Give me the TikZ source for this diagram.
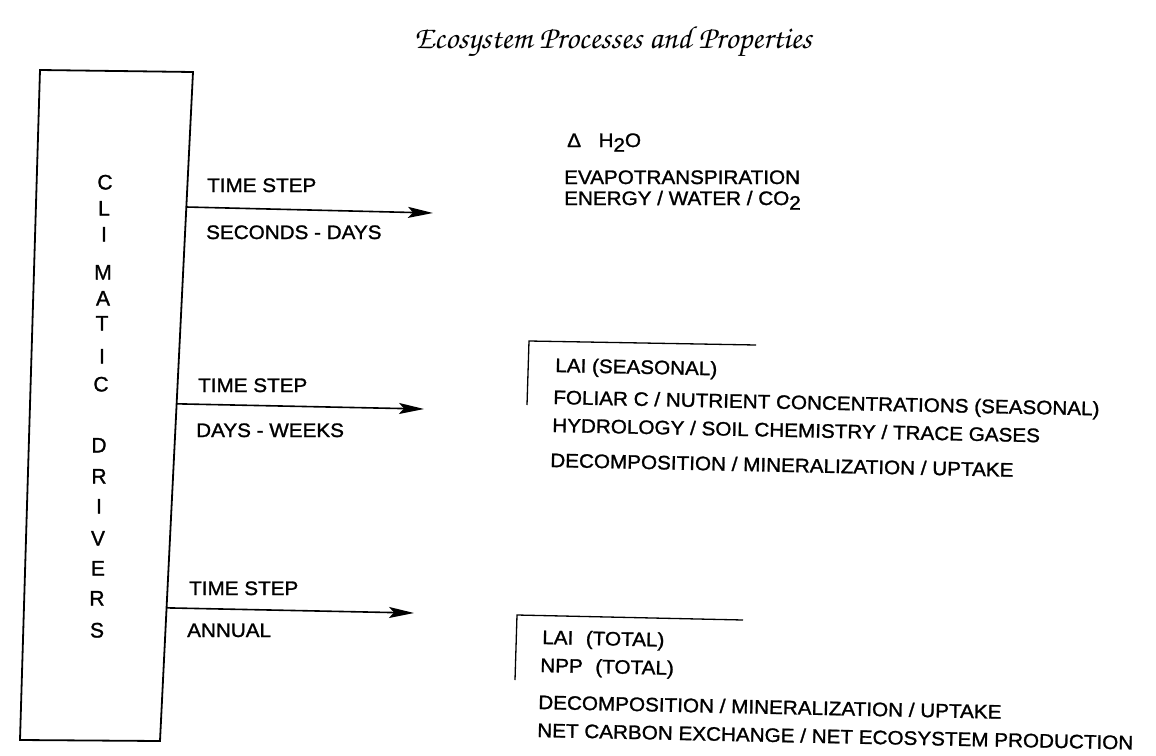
\documentclass[tikz,border=0pt]{standalone}
\usepackage{fontspec}
\setmainfont{Liberation Sans}
\newfontfamily\lab[FakeStretch=1.06,FakeBold=1.3]{Liberation Sans}
\newfontfamily\letfont[FakeBold=1.3]{Liberation Sans}
\usetikzlibrary{arrows.meta,calc}
\begin{document}
\begin{tikzpicture}[x=1pt,y=-1pt,
  txt/.style={inner sep=0pt,anchor=base west,font=\fontsize{19.5}{22}\lab},
  rtxt/.style={txt,rotate=-1.2},
  letter/.style={inner sep=0pt,anchor=base,font=\fontsize{21}{23}\letfont},
  boxline/.style={line width=1.8pt,line join=miter},
  arr/.style={line width=1.6pt,-{Stealth[length=25pt,width=11pt,inset=5pt]}},
  brk/.style={line width=1.3pt}]
\useasboundingbox (0,0) rectangle (1156,755);
% title
\node[inner sep=0pt,anchor=base] (title) at (613,48)
  {\fontsize{32}{36}\usefont{OT1}{pzc}{mb}{it}Ecosystem Processes and Properties};
% box
\coordinate (tl) at (40,70);
\coordinate (tr) at (193,72);
\coordinate (br) at (160,741);
\coordinate (bl) at (20,740);
\draw[boxline] (tl) -- (tr) -- (br) -- (bl) -- cycle;
% letters
\foreach \ch/\xx/\yy [count=\i] in {C/105/182,L/104/208,I/104/234,M/103/272,A/103/298,T/102/323,I/102/356,C/101/384,D/99/445,R/99/476,I/99/506,V/98/538,E/98/568,R/97/598,S/97/630}
  \node[letter] (let\i) at (\xx,\yy+7.5) {\ch};
% arrow start/end points
\coordinate (s1) at ($(tr)!0.2018!(br)$);
\coordinate (s2) at ($(tr)!0.496!(br)$);
\coordinate (s3) at ($(tr)!0.801!(br)$);
\coordinate (e1) at (433,213);
\coordinate (e2) at (424,409);
\coordinate (e3) at (414,613);
\draw[arr] (s1) -- (e1);
\draw[arr] (s2) -- (e2);
\draw[arr] (s3) -- (e3);
% arrow labels
\node[txt] (ts1) at (207,192) {TIME STEP};
\node[txt] (sd) at (206,239) {SECONDS - DAYS};
\node[txt] (ts2) at (198,392) {TIME STEP};
\node[txt] (dw) at (196,437) {DAYS - WEEKS};
\node[txt] (ts3) at (189,595) {TIME STEP};
\node[txt] (an) at (187,637) {ANNUAL};
% group 1
\node[txt] (h2o) at (567,147) {Δ\hspace{0.9em}H\raisebox{-0.45ex}{2}O};
\node[txt] (evap) at (564,184) {EVAPOTRANSPIRATION};
\node[txt] (ewc) at (564,205) {ENERGY / WATER / CO\raisebox{-0.45ex}{2}};
% group 2
\coordinate (b2a) at (756,345);
\coordinate (b2b) at (529,341);
\coordinate (b2c) at (527,405);
\draw[brk] (b2a) -- (b2b) -- (b2c);
\node[rtxt] (lai1) at (555,372) {LAI (SEASONAL)};
\node[rtxt] (fol) at (553,404) {FOLIAR C / NUTRIENT CONCENTRATIONS (SEASONAL)};
\node[rtxt] (hyd) at (552,432) {HYDROLOGY / SOIL CHEMISTRY / TRACE GASES};
\node[rtxt] (dec1) at (550,467) {DECOMPOSITION / MINERALIZATION / UPTAKE};
% group 3
\coordinate (b3a) at (743,620);
\coordinate (b3b) at (517,615);
\coordinate (b3c) at (515,680);
\draw[brk] (b3a) -- (b3b) -- (b3c);
\node[rtxt] (lai2) at (542,644) {LAI\hspace{0.35em} (TOTAL)};
\node[rtxt] (npp) at (540,672) {NPP\hspace{0.35em} (TOTAL)};
\node[rtxt] (dec2) at (538,709) {DECOMPOSITION / MINERALIZATION / UPTAKE};
\node[rtxt] (net) at (537,737) {NET CARBON EXCHANGE / NET ECOSYSTEM PRODUCTION};
\end{tikzpicture}
\end{document}
